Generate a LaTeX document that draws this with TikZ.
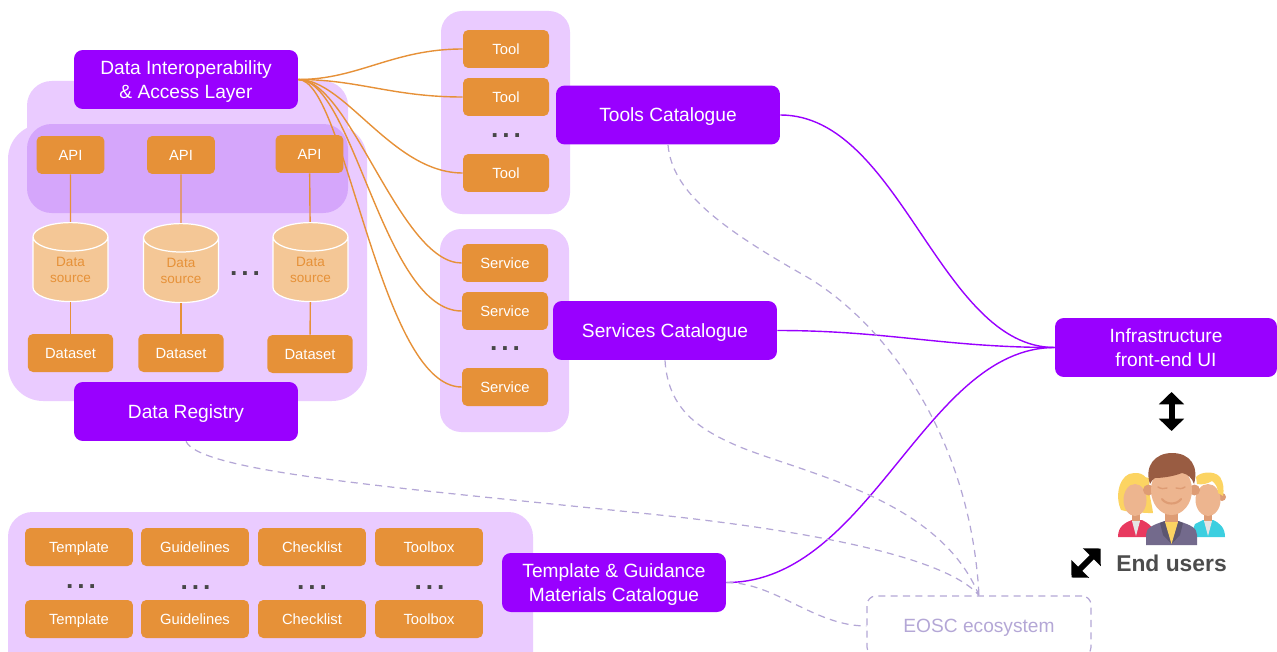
\documentclass[tikz,border=0pt]{standalone}
\usepackage{fontspec}
\setmainfont{Liberation Sans}
\usetikzlibrary{arrows.meta,shapes.geometric}
\definecolor{catpurple}{HTML}{9900FF}
\definecolor{itemorange}{HTML}{E69138}
\definecolor{panellight}{HTML}{EACBFF}
\definecolor{paneldark}{HTML}{D5A6FB}
\definecolor{cylfill}{HTML}{F4C796}
\definecolor{eoscgrey}{HTML}{B4A7D6}
\definecolor{hairyellow}{HTML}{FCD462}
\definecolor{hairbrown}{HTML}{995C42}
\definecolor{skintone}{HTML}{EDB58F}
\definecolor{skindark}{HTML}{DE9C74}
\definecolor{suitgrey}{HTML}{736A8C}
\definecolor{suitdark}{HTML}{5D5670}
\definecolor{shirtred}{HTML}{E8395F}
\definecolor{shirtcyan}{HTML}{3CCFE0}
\newcommand{\threedots}{.\kern2.2pt.\kern2.2pt.}
\begin{document}
\begin{tikzpicture}[x = 0.02cm,y = -0.02cm,
  catbox/.style = {fill = catpurple,text = white,rounded corners = 5pt,minimum width = 4.48cm,minimum height = 1.18cm,align = center,inner sep = 0pt,text depth = 0pt,font = \fontsize{10.9}{13.4}\selectfont},
  itembox/.style = {fill = itemorange,text = white,rounded corners = 3pt,minimum height = 0.76cm,inner sep = 0pt,text depth = 0pt,font = \fontsize{8.4}{10}\selectfont},
  toolbox/.style = {itembox,minimum width = 1.72cm},
  apibox/.style = {itembox,minimum width = 1.36cm},
  setbox/.style = {itembox,minimum width = 1.71cm},
  tplbox/.style = {itembox,minimum width = 2.16cm},
  cylnode/.style = {cylinder,shape border rotate = 90,aspect = 0.7,draw = white,line width = 0.7pt,cylinder uses custom fill,cylinder body fill = cylfill,cylinder end fill = cylfill,text = itemorange,minimum width = 1.5cm,minimum height = 1.58cm,inner sep = 0pt,align = center,font = \fontsize{7.7}{9.2}\selectfont},
  dotsnode/.style = {text = black!72,inner sep = 0pt,text height = 2pt,text depth = 0pt,font = \fontsize{15}{15}\bfseries\selectfont},
  orangeline/.style = {draw = itemorange,line width = 0.8pt},
  purpleline/.style = {draw = catpurple,line width = 0.8pt},
  eoscline/.style = {draw = eoscgrey,line width = 0.7pt,dash pattern = on 4pt off 3pt},
  bigarrow/.style = {line width = 3.4pt,{Triangle[length = 7pt,width = 14pt]}-{Triangle[length = 7pt,width = 14pt]}}]
\clip[use as bounding box] (0,0) rectangle (1277,652);
% panels
\fill[panellight,rounded corners = 14pt] (27,81) rectangle (348,213);
\fill[panellight,rounded corners = 20pt] (8,124) rectangle (367,401);
\fill[paneldark,rounded corners = 14pt] (27,124) rectangle (348,213);
\fill[panellight,rounded corners = 12pt] (441,11) rectangle (570,214);
\fill[panellight,rounded corners = 12pt] (440,229) rectangle (569,432);
\fill[panellight,rounded corners = 14pt] (8,512) rectangle (533,680);
% catalogues
\node[catbox] (dil) at (186,79.5) {Data Interoperability\\\& Access Layer};
\node[catbox] (reg) at (186,411.5) {Data Registry};
\node[catbox] (tools) at (668,115) {Tools Catalogue};
\node[catbox] (services) at (665,330.5) {Services Catalogue};
\node[catbox] (guides) at (614,582.5) {Template \& Guidance\\Materials Catalogue};
\node[catbox,minimum width = 4.44cm] (ui) at (1166,347.5) {Infrastructure\\front-end UI};
% tools and services
\node[toolbox] (tool1) at (506,49) {Tool};
\node[toolbox] (tool2) at (506,97) {Tool};
\node[dotsnode] (tooldots) at (506,135.5) {\threedots};
\node[toolbox] (tool3) at (506,173) {Tool};
\node[toolbox] (srv1) at (505,263) {Service};
\node[toolbox] (srv2) at (505,311) {Service};
\node[dotsnode] (srvdots) at (505,348.5) {\threedots};
\node[toolbox] (srv3) at (505,387) {Service};
% api, sources, datasets
\node[apibox] (api1) at (70.5,155) {API};
\node[apibox] (api2) at (181,155) {API};
\node[apibox] (api3) at (309.5,154) {API};
\node[cylnode] (src1) at (70.5,269.5) {Data\\source};
\node[cylnode] (src2) at (181,270.5) {Data\\source};
\node[cylnode] (src3) at (310.5,269.5) {Data\\source};
\node[dotsnode] (srcdots) at (245,273.5) {\threedots};
\node[setbox] (set1) at (70.5,353) {Dataset};
\node[setbox] (set2) at (181,353) {Dataset};
\node[setbox] (set3) at (310,354) {Dataset};
\draw[orangeline] (api1) -- (src1);\draw[orangeline] (api2) -- (src2);\draw[orangeline] (api3) -- (src3);
\draw[orangeline] (src1) -- (set1);\draw[orangeline] (src2) -- (set2);\draw[orangeline] (src3) -- (set3);
% templates
\node[tplbox] (tpl1) at (79,547) {Template};
\node[tplbox] (gui1) at (195,547) {Guidelines};
\node[tplbox] (chk1) at (312,547) {Checklist};
\node[tplbox] (box1) at (429,547) {Toolbox};
\node[dotsnode] (tpldots) at (81,587) {\threedots};
\node[dotsnode] (guidots) at (195.5,588) {\threedots};
\node[dotsnode] (chkdots) at (312,588) {\threedots};
\node[dotsnode] (boxdots) at (429.5,588) {\threedots};
\node[tplbox] (tpl2) at (79,619) {Template};
\node[tplbox] (gui2) at (195,619) {Guidelines};
\node[tplbox] (chk2) at (312,619) {Checklist};
\node[tplbox] (box2) at (429,619) {Toolbox};
% eosc
\node[draw = eoscgrey,text = eoscgrey,line width = 0.7pt,dash pattern = on 4pt off 3pt,rounded corners = 5pt,minimum width = 4.48cm,minimum height = 1.2cm,inner sep = 0pt,text depth = 0pt,font = \fontsize{10.9}{13}\selectfont] (eosc) at (979,626) {EOSC ecosystem};
% orange connectors
\draw[orangeline] (dil.east) .. controls +(60,0) and +(-70,0) .. (tool1.west);
\draw[orangeline] (dil.east) .. controls +(60,0) and +(-70,0) .. (tool2.west);
\draw[orangeline] (dil.east) .. controls +(47,0) and +(-70,0) .. (tool3.west);
\draw[orangeline] (dil.east) .. controls +(52,0) and +(-62,0) .. (srv1.west);
\draw[orangeline] (dil.east) .. controls +(55,0) and +(-78,0) .. (srv2.west);
\draw[orangeline] (dil.east) .. controls +(47,0) and +(-82,0) .. (srv3.west);
% purple connectors
\draw[purpleline] (tools.east) .. controls +(120,0) and +(-115,0) .. (ui.west);
\draw[purpleline] (services.east) .. controls +(110,0) and +(-110,0) .. (ui.west);
\draw[purpleline] (guides.east) .. controls +(144,0) and +(-130,0) .. (ui.west);
% dashed connectors
\draw[eoscline] (tools.south) .. controls (672,190) and (715,225) .. (807,277) .. controls (880,320) and (970,430) .. (eosc.north);
\draw[eoscline] (services.south) .. controls (668,410) and (700,430) .. (740,447) .. controls (810,475) and (940,500) .. (eosc.north);
\draw[eoscline] (reg.south) .. controls (200,472) and (400,488) .. (640,513) .. controls (760,525) and (940,550) .. (eosc.north);
\draw[eoscline] (guides.east) .. controls +(49,0) and +(-52,0) .. (eosc.west);
% users
\coordinate (arrowtop) at (1171.5,392);\coordinate (arrowbot) at (1171.5,431);
\draw[bigarrow] (arrowtop) -- (arrowbot);
\coordinate (diagfrom) at (1071.5,577.5);\coordinate (diagto) at (1100.5,548.5);
\draw[bigarrow] (diagfrom) -- (diagto);
\node[text = black!70,inner sep = 0pt,text depth = 0pt,font = \fontsize{13}{15}\bfseries\selectfont] (endusers) at (1171.5,563) {End users};
% left person
\fill[hairyellow] (1121,510) .. controls (1114,495) and (1120,473) .. (1134,473) .. controls (1145,472) and (1149,480) .. (1149,490) .. controls (1150,498) and (1152,505) .. (1153,513) -- (1148,513) -- (1130,512) -- cycle;
\fill[shirtred] (1118,537) .. controls (1118,527) and (1124,523) .. (1132,520) -- (1142,520) .. controls (1148,523) and (1152,526) .. (1153,530) -- (1153,537) -- cycle;
\fill[skindark] (1132,512) rectangle (1140,522);
\fill[skintone] (1135,500) ellipse (11.5 and 16);
\fill[hairyellow] (1123,496) .. controls (1125,485) and (1133,482) .. (1138,480) .. controls (1145,484) and (1147,490) .. (1149,500) -- (1149,478) -- (1130,474) -- cycle;
\fill[black!10] (1132,521) -- (1140,521) -- (1136,536) -- cycle;
% right person
\fill[shirtcyan] (1190,537) -- (1195,524) -- (1203,520) -- (1213,520) .. controls (1220,523) and (1225,528) .. (1225,537) -- cycle;
\fill[skindark] (1204,512) rectangle (1212,522);
\fill[skindark] (1222,497) circle (4);
\fill[skintone] (1208,500) ellipse (12.5 and 16);
\fill[hairyellow] (1196,477) .. controls (1200,472) and (1214,470) .. (1220,477) .. controls (1224,483) and (1224,490) .. (1223,496) -- (1218,493) .. controls (1218,487) and (1215,483) .. (1212,481) .. controls (1207,484) and (1202,485) .. (1197,484) -- cycle;
\fill[black!10] (1204,521) -- (1212,521) -- (1208,536) -- cycle;
% main person
\fill[suitgrey] (1146,545) -- (1146,535) .. controls (1146,528) and (1152,525) .. (1165,521) -- (1178,521) .. controls (1191,525) and (1197,528) .. (1197,535) -- (1197,545) -- cycle;
\fill[suitdark] (1160,523) -- (1165,521) -- (1171.5,544) -- (1163,535) -- cycle;\fill[suitdark] (1183,523) -- (1178,521) -- (1171.5,544) -- (1180,535) -- cycle;
\fill[hairyellow] (1165,522) -- (1178,522) -- (1171.5,544) -- cycle;
\fill[skindark] (1165,510) rectangle (1178,522);
\fill[skindark] (1148.5,490) circle (5.5);\fill[skindark] (1194.5,490) circle (5.5);
\fill[skintone] (1171.5,490) ellipse (20.5 and 25);
\fill[hairbrown] (1150,484) .. controls (1144,466) and (1155,453) .. (1172,453) .. controls (1190,453) and (1199,466) .. (1194,484) .. controls (1192,478) and (1188,474) .. (1182,473) .. controls (1172,477) and (1160,478) .. (1155,478) .. controls (1152,480) and (1151,482) .. (1150,484) -- cycle;
\draw[skindark,line width = 1.2pt,line cap = round] (1162,499) .. controls (1166,505) and (1177,505) .. (1181,499);
\draw[skindark,line width = 0.8pt,line cap = round] (1158,487) .. controls (1161,489) and (1164,489) .. (1167,488);\draw[skindark,line width = 0.8pt,line cap = round] (1176,488) .. controls (1179,489) and (1182,489) .. (1185,487);
\end{tikzpicture}
\end{document}
